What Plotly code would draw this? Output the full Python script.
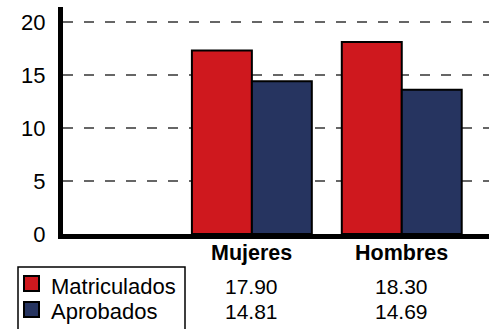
import plotly.graph_objects as go

# ---- data ----
categories = ["Mujeres", "Hombres"]
series_names = ["Matriculados", "Aprobados"]
matriculados = [17.3, 18.1]
aprobados = [14.4, 13.6]
table_matriculados = ["17.90", "18.30"]
table_aprobados = ["14.81", "14.69"]
y_ticks = [0, 5, 10, 15, 20]

RED = "#CF181E"
BLUE = "#263460"
FONT = "Liberation Sans, Arial, sans-serif"

W, H = 491, 329
ML, MR, MT, MB = 63, 2, 7, 95
PW, PH = W - ML - MR, H - MT - MB


def px_x(px):
    return (px - ML) / PW


def px_y(py):
    return (H - MB - py) / PH


fig = go.Figure()
fig.add_bar(x=categories, y=matriculados, name=series_names[0],
            marker=dict(color=RED, line=dict(color="black", width=2)))
fig.add_bar(x=categories, y=aprobados, name=series_names[1],
            marker=dict(color=BLUE, line=dict(color="black", width=2)))

annotations = []
# header row (category names)
for c in categories:
    annotations.append(dict(x=c, xref="x", y=px_y(253), yref="paper", text="<b>%s</b>" % c,
                            showarrow=False, xanchor="center", yanchor="middle",
                            font=dict(family=FONT, size=21.5, color="black")))
# value rows
for c, v in zip(categories, table_matriculados):
    annotations.append(dict(x=c, xref="x", y=px_y(286.5), yref="paper", text=v,
                            showarrow=False, xanchor="center", yanchor="middle",
                            font=dict(family=FONT, size=21, color="black")))
for c, v in zip(categories, table_aprobados):
    annotations.append(dict(x=c, xref="x", y=px_y(311.5), yref="paper", text=v,
                            showarrow=False, xanchor="center", yanchor="middle",
                            font=dict(family=FONT, size=21, color="black")))
# legend labels
for name, py in zip(series_names, [286.5, 311.5]):
    annotations.append(dict(x=px_x(49), xref="paper", y=px_y(py), yref="paper", text=name,
                            showarrow=False, xanchor="left", yanchor="middle",
                            font=dict(family=FONT, size=22, color="black")))

shapes = [
    dict(type="rect", xref="paper", yref="paper",
         x0=px_x(18), x1=px_x(185), y0=px_y(267), y1=px_y(340),
         line=dict(color="black", width=1.5), fillcolor="rgba(0,0,0,0)"),
]
for color, (t, b) in zip([RED, BLUE], [(276, 291), (302, 317)]):
    shapes.append(dict(type="rect", xref="paper", yref="paper",
                       x0=px_x(24), x1=px_x(39), y0=px_y(b), y1=px_y(t),
                       line=dict(color="black", width=2), fillcolor=color))

fig.update_layout(
    width=W, height=H,
    margin=dict(l=ML, r=MR, t=MT, b=MB, pad=0),
    paper_bgcolor="white", plot_bgcolor="white",
    showlegend=False,
    barmode="group", bargap=0.2, bargroupgap=0,
    font=dict(family=FONT, color="black"),
    annotations=annotations,
    shapes=shapes,
    xaxis=dict(range=[-1.26, 1.582], showticklabels=False, showgrid=False,
               showline=True, linewidth=5, linecolor="black", ticks="",
               zeroline=False, fixedrange=True),
    yaxis=dict(range=[0, 21.4], tickvals=y_ticks, ticktext=[str(t) for t in y_ticks],
               tickfont=dict(family=FONT, size=22, color="black"),
               showgrid=True, gridcolor="#666666", gridwidth=2, griddash="10px,11px",
               showline=True, linewidth=5, linecolor="black",
               ticks="outside", ticklen=8, tickcolor="rgba(0,0,0,0)",
               zeroline=False, fixedrange=True),
)

fig.write_html(
    "out.html",
    config={"displayModeBar": False},
    post_script="document.body.style.margin='0';document.body.style.overflow='hidden';",
)
